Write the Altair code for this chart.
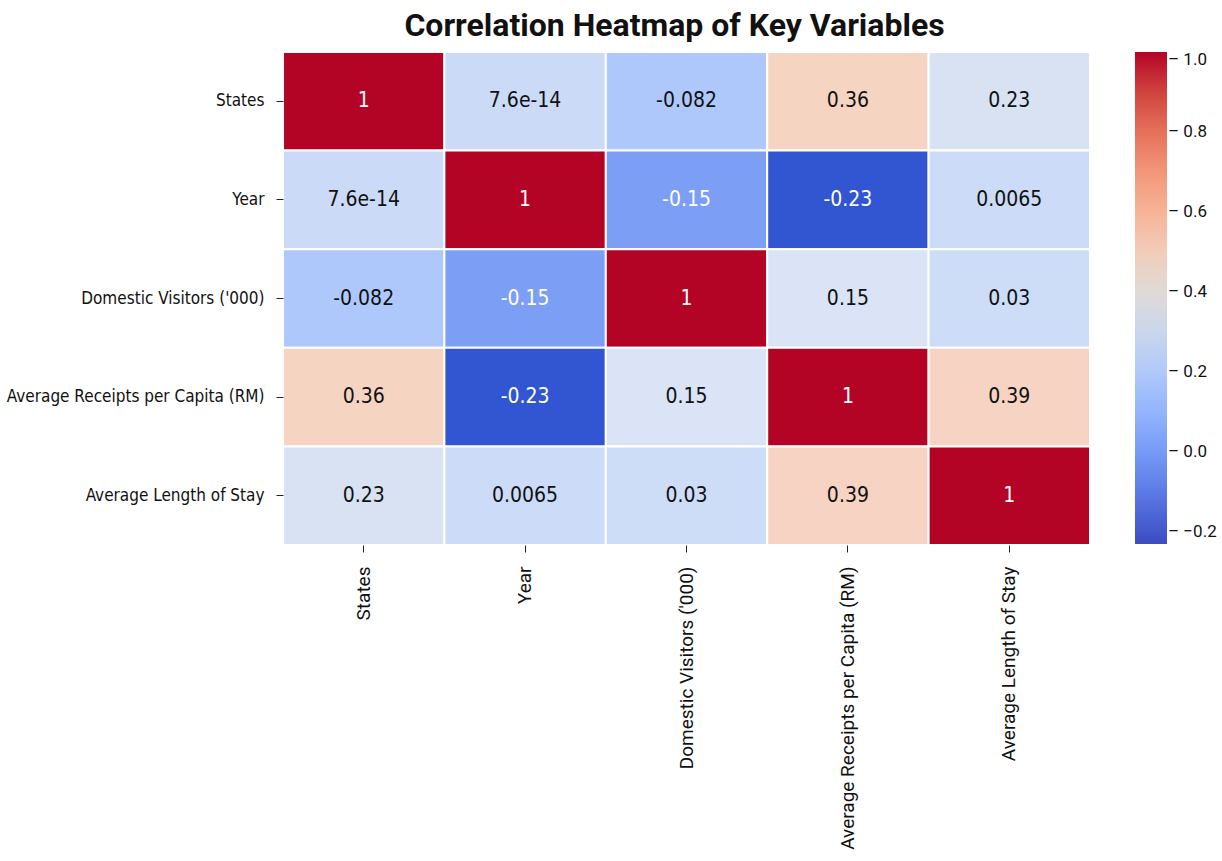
import altair as alt
import pandas as pd

variables = ["States", "Year", "Domestic Visitors ('000)",
             "Average Receipts per Capita (RM)", "Average Length of Stay"]

row_states = [1.0, 7.6e-14, -0.082, 0.36, 0.23]
row_year = [7.6e-14, 1.0, -0.15, -0.23, 0.0065]
row_domestic = [-0.082, -0.15, 1.0, 0.15, 0.03]
row_receipts = [0.36, -0.23, 0.15, 1.0, 0.39]
row_stay = [0.23, 0.0065, 0.03, 0.39, 1.0]
matrix = [row_states, row_year, row_domestic, row_receipts, row_stay]

colorbar_ticks = [-0.2, 0.0, 0.2, 0.4, 0.6, 0.8, 1.0]
vmin, vmax = -0.23, 1.0

# colour bar: standard coolwarm ramp
coolwarm = ["#3b4cc0", "#5a78e4", "#7b9ff9", "#9ebeff", "#c0d4f5", "#dddcdc",
            "#f2cbb7", "#f7ac8e", "#ee8468", "#d65244", "#b40426"]
bar_domain = [vmin + (vmax - vmin) * k / (len(coolwarm) - 1) for k in range(len(coolwarm))]

# cell shading as it appears in the picture
cell_stops = [-0.23, -0.15, -0.082, 0.0, 0.15, 0.25, 0.36, 0.39, 1.0]
cell_colors = ["#3256d1", "#7c9ef5", "#aec8fc", "#cbdbf7", "#dae4f6", "#d8e1f2",
               "#f5d4c2", "#f6d3c2", "#b40426"]

records = []
for i, rname in enumerate(variables):
    for j, cname in enumerate(variables):
        v = matrix[i][j]
        records.append({"row": rname, "col": cname, "value": v,
                        "label": format(v, ".2g")})
df = pd.DataFrame(records)

narrow = "Liberation Sans Narrow, DejaVu Sans Condensed, Arial Narrow, sans-serif"
xfont = "Roboto, Liberation Sans, Arial, sans-serif"

base = alt.Chart(df).encode(
    x=alt.X("col:N", sort=variables, title=None,
            axis=alt.Axis(labelAngle=-90, labelFont=xfont, labelFontSize=19,
                          labelColor="#111", tickSize=7, tickColor="#222",
                          labelPadding=14, domain=False, labelLimit=600)),
    y=alt.Y("row:N", sort=variables, title=None,
            axis=alt.Axis(labelFont=narrow, labelFontSize=17, labelColor="#111",
                          tickSize=7, tickColor="#222", labelPadding=12,
                          domain=False, labelLimit=600)),
)

rects = base.mark_rect(stroke="white", strokeWidth=2).encode(
    fill=alt.Fill("value:Q", scale=alt.Scale(domain=cell_stops, range=cell_colors,
                                             interpolate="rgb"), legend=None)
)

bar = base.mark_point(opacity=0).encode(
    color=alt.Color("value:Q",
                    scale=alt.Scale(domain=bar_domain, range=coolwarm, interpolate="rgb"),
                    title=None,
                    legend=alt.Legend(orient="right", gradientLength=492,
                                      gradientThickness=32, values=colorbar_ticks,
                                      format=".1f", labelFont=xfont,
                                      labelExpr="'\u2013 ' + datum.label",
                                      labelFontSize=17, labelColor="#111",
                                      offset=45, labelOffset=1,
                                      gradientStrokeWidth=0, direction="vertical"))
)

texts = base.mark_text(font=narrow, fontSize=21).encode(
    text="label:N",
    color=alt.condition("datum.value > 0.8 || datum.value < -0.12",
                        alt.value("white"), alt.value("#111"))
)

chart = (rects + bar + texts).properties(
    width=807, height=493,
    title=alt.TitleParams("Correlation Heatmap of Key Variables", fontSize=32,
                          font="Roboto, Liberation Sans, Arial, sans-serif",
                          fontWeight="bold", color="#111", anchor="middle",
                          offset=8, dx=-12),
    padding={"left": 6, "top": 10, "right": 0, "bottom": 0},
).configure_view(stroke=None).configure(background="white")

chart.save("out.html", embed_options={"renderer": "svg", "actions": False})
